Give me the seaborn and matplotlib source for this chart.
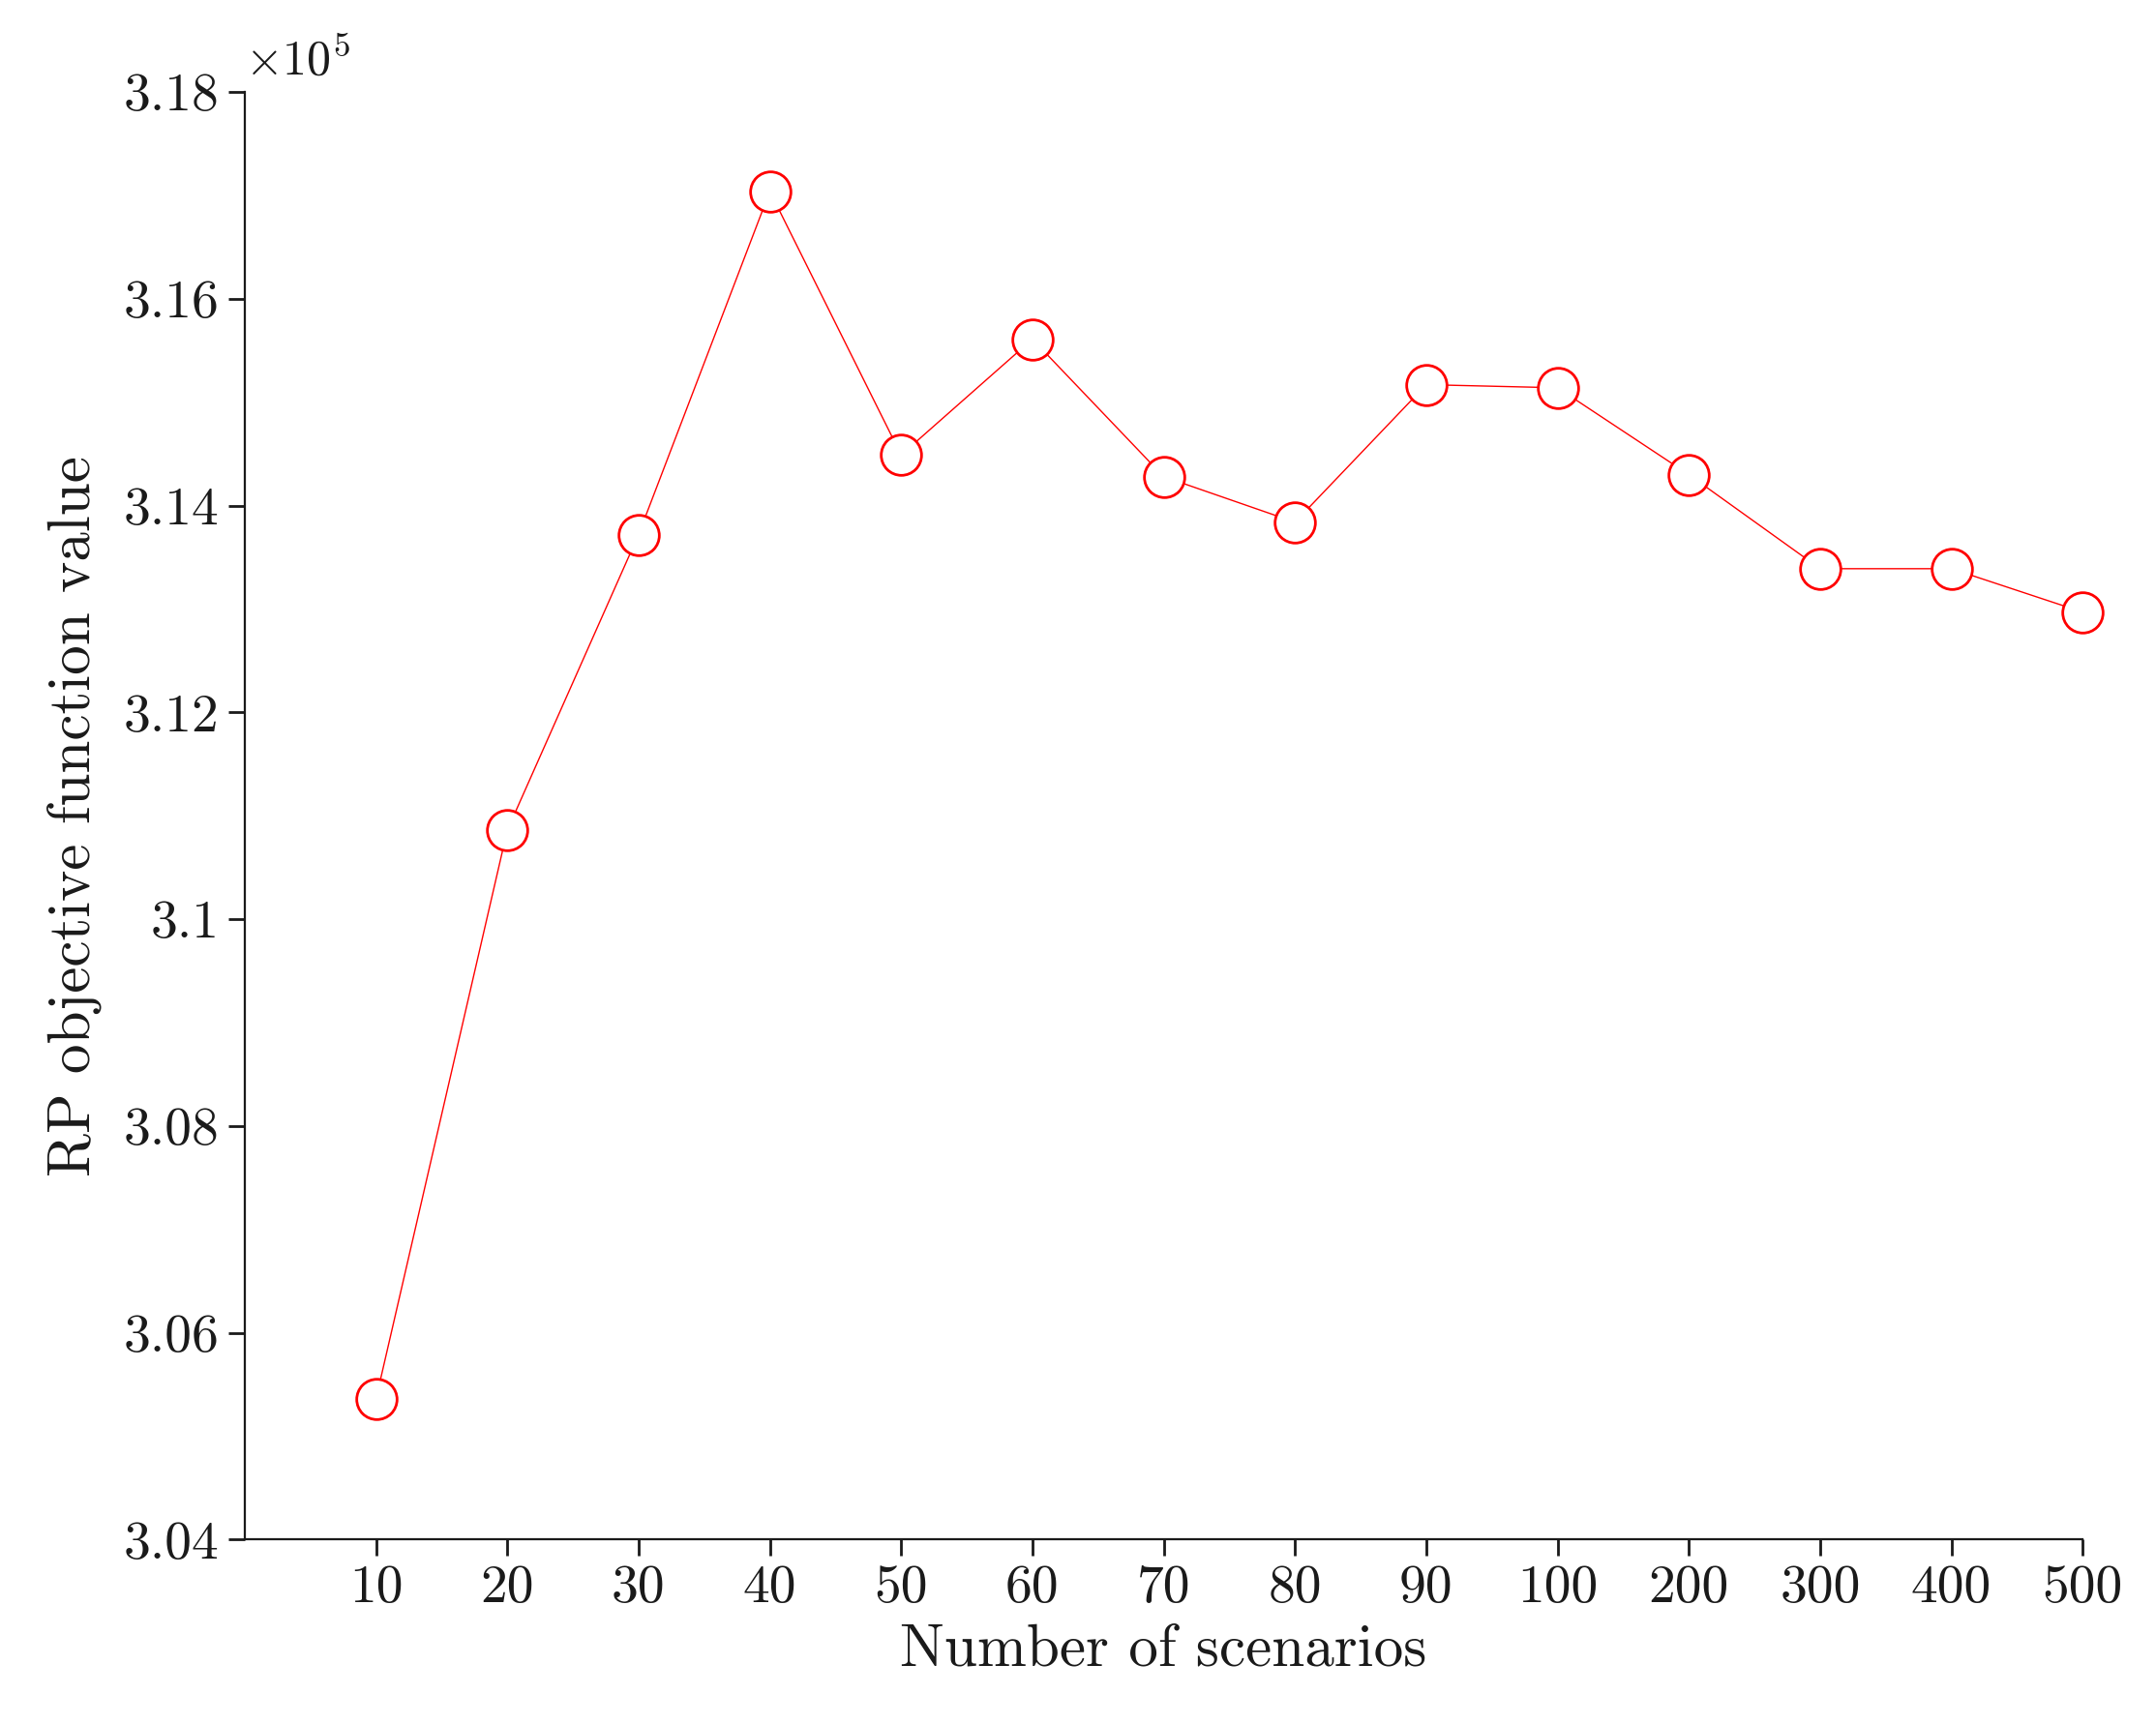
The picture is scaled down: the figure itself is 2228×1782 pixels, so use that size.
import numpy as np
import pandas as pd
import matplotlib
matplotlib.use("Agg")
import matplotlib.pyplot as plt
import seaborn as sns

scenarios = ["10","20","30","40","50","60","70","80","90","100","200","300","400","500"]
values = [3.0536,3.1086,3.1372,3.1704,3.1449,3.1561,3.1428,3.1384,3.1517,3.1514,3.1430,3.1339,3.1339,3.1297]
yticks = [3.04,3.06,3.08,3.10,3.12,3.14,3.16,3.18]
ylabels = ["3.04","3.06","3.08","3.1","3.12","3.14","3.16","3.18"]

sns.set_style("ticks")
plt.rcParams['font.family'] = ['cmr10', 'DejaVu Serif']
plt.rcParams['mathtext.fontset'] = 'cm'
plt.rcParams['axes.formatter.use_mathtext'] = True

df = pd.DataFrame({"pos": np.arange(1, len(scenarios)+1), "val": values})
fig = plt.figure(figsize=(11.14, 8.91), dpi=200)
ax = fig.add_axes([0.1135, 0.107, 0.8525, 0.8396])
sns.lineplot(data=df, x="pos", y="val", ax=ax, color="red", linewidth=0.5,
             marker="o", markersize=15, markerfacecolor="white",
             markeredgecolor="red", markeredgewidth=1.0, clip_on=False)
ax.set_xlim(0, 14)
ax.set_ylim(3.04, 3.18)
ax.set_xticks(df["pos"])
ax.set_xticklabels(scenarios)
ax.set_yticks(yticks)
ax.set_yticklabels(ylabels)
ax.tick_params(direction="out", labelsize=20, length=6, width=1, colors="#1a1a1a")
for s in ["top", "right"]:
    ax.spines[s].set_visible(False)
for s in ["left", "bottom"]:
    ax.spines[s].set_color("#1a1a1a")
ax.set_xlabel("Number of scenarios", fontsize=22, color="#1a1a1a", labelpad=4)
ax.set_ylabel("RP objective function value", fontsize=22, color="#1a1a1a", labelpad=8)
ax.text(0.0, 1.005, r"$\times10^5$", transform=ax.transAxes, fontsize=18,
        va="bottom", ha="left", color="#1a1a1a")
fig.savefig("out.png", dpi=200)
